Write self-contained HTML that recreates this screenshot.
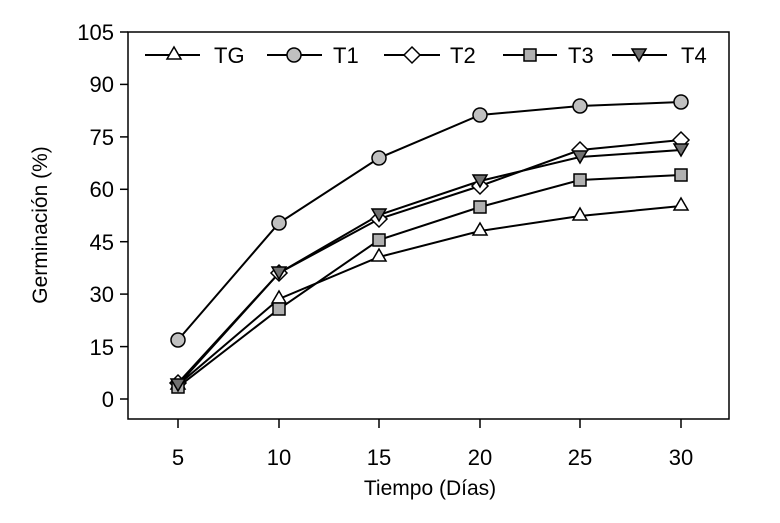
<!DOCTYPE html><html><head><style>body{margin:0;background:#fff}svg{display:block}text{font-family:"Liberation Sans",sans-serif;fill:#000}</style></head><body>
<svg width="780" height="523" viewBox="0 0 780 523">
<rect x="128" y="32" width="601" height="387" fill="none" stroke="#000" stroke-width="1.5"/>
<g stroke="#000" stroke-width="1.5">
<line x1="120" y1="32" x2="128" y2="32"/><line x1="120" y1="84.4" x2="128" y2="84.4"/><line x1="120" y1="136.9" x2="128" y2="136.9"/><line x1="120" y1="189.3" x2="128" y2="189.3"/><line x1="120" y1="241.7" x2="128" y2="241.7"/><line x1="120" y1="294.1" x2="128" y2="294.1"/><line x1="120" y1="346.6" x2="128" y2="346.6"/><line x1="120" y1="399" x2="128" y2="399"/>
<line x1="178" y1="419" x2="178" y2="428"/><line x1="279" y1="419" x2="279" y2="428"/><line x1="379" y1="419" x2="379" y2="428"/><line x1="480" y1="419" x2="480" y2="428"/><line x1="580" y1="419" x2="580" y2="428"/><line x1="681" y1="419" x2="681" y2="428"/>
</g>
<g font-size="22" text-anchor="end">
<text x="114" y="40">105</text><text x="114" y="92">90</text><text x="114" y="145">75</text><text x="114" y="197">60</text><text x="114" y="250">45</text><text x="114" y="302">30</text><text x="114" y="355">15</text><text x="114" y="407">0</text></g>
<g font-size="22" text-anchor="middle">
<text x="178" y="465">5</text><text x="279" y="465">10</text><text x="379" y="465">15</text><text x="480" y="465">20</text><text x="580" y="465">25</text><text x="681" y="465">30</text>
<text x="430" y="495" font-size="21">Tiempo (Días)</text>
<text transform="translate(47 225) rotate(-90)" font-size="21">Germinación (%)</text></g>
<g fill="none" stroke="#000" stroke-width="2">
<polyline points="178,385 279,299 379,257 480,231 580,216 681,206"/>
<polyline points="178,340 279,223 379,158 480,115 580,106 681,102"/>
<polyline points="178,383 279,273 379,219 480,186 580,150 681,140"/>
<polyline points="178,387 279,309 379,240 480,207 580,180 681,175"/>
<polyline points="178,385 279,273 379,215 480,181 580,157 681,150"/>
</g>
<g stroke="#000" stroke-width="1.5">
<g fill="#fff"><path d="M178,377 l7,12 h-14z"/><path d="M279,291 l7,12 h-14z"/><path d="M379,249 l7,12 h-14z"/><path d="M480,223 l7,12 h-14z"/><path d="M580,208 l7,12 h-14z"/><path d="M681,198 l7,12 h-14z"/></g>
<g fill="#c0c0c0"><circle cx="178" cy="340" r="7"/><circle cx="279" cy="223" r="7"/><circle cx="379" cy="158" r="7"/><circle cx="480" cy="115" r="7"/><circle cx="580" cy="106" r="7"/><circle cx="681" cy="102" r="7"/></g>
<g fill="#fff"><path d="M178,375 l8,8 -8,8 -8,-8z"/><path d="M279,265 l8,8 -8,8 -8,-8z"/><path d="M379,211 l8,8 -8,8 -8,-8z"/><path d="M480,178 l8,8 -8,8 -8,-8z"/><path d="M580,142 l8,8 -8,8 -8,-8z"/><path d="M681,132 l8,8 -8,8 -8,-8z"/></g>
<g fill="#b0b0b0"><rect x="172" y="381" width="12" height="12"/><rect x="273" y="303" width="12" height="12"/><rect x="373" y="234" width="12" height="12"/><rect x="474" y="201" width="12" height="12"/><rect x="574" y="174" width="12" height="12"/><rect x="675" y="169" width="12" height="12"/></g>
<g fill="#707070"><path d="M171,379 h14 l-7,12z"/><path d="M272,267 h14 l-7,12z"/><path d="M372,209 h14 l-7,12z"/><path d="M473,175 h14 l-7,12z"/><path d="M573,151 h14 l-7,12z"/><path d="M674,144 h14 l-7,12z"/></g>
</g>
<g stroke="#000" stroke-width="2"><line x1="145" y1="55" x2="200" y2="55"/><line x1="267" y1="55" x2="322" y2="55"/><line x1="384" y1="55" x2="440" y2="55"/><line x1="503" y1="55" x2="557" y2="55"/><line x1="612" y1="55" x2="667" y2="55"/></g>
<g stroke="#000" stroke-width="1.5">
<path d="M174,47 l7,12 h-14z" fill="#fff"/>
<circle cx="294" cy="55" r="7" fill="#c0c0c0"/>
<path d="M412,47 l8,8 -8,8 -8,-8z" fill="#fff"/>
<rect x="524" y="49" width="12" height="12" fill="#b0b0b0"/>
<path d="M632,49 h14 l-7,12z" fill="#707070"/></g>
<g font-size="22"><text x="214" y="63">TG</text><text x="333" y="63">T1</text><text x="450" y="63">T2</text><text x="568" y="63">T3</text><text x="681" y="63">T4</text></g>
</svg></body></html>
